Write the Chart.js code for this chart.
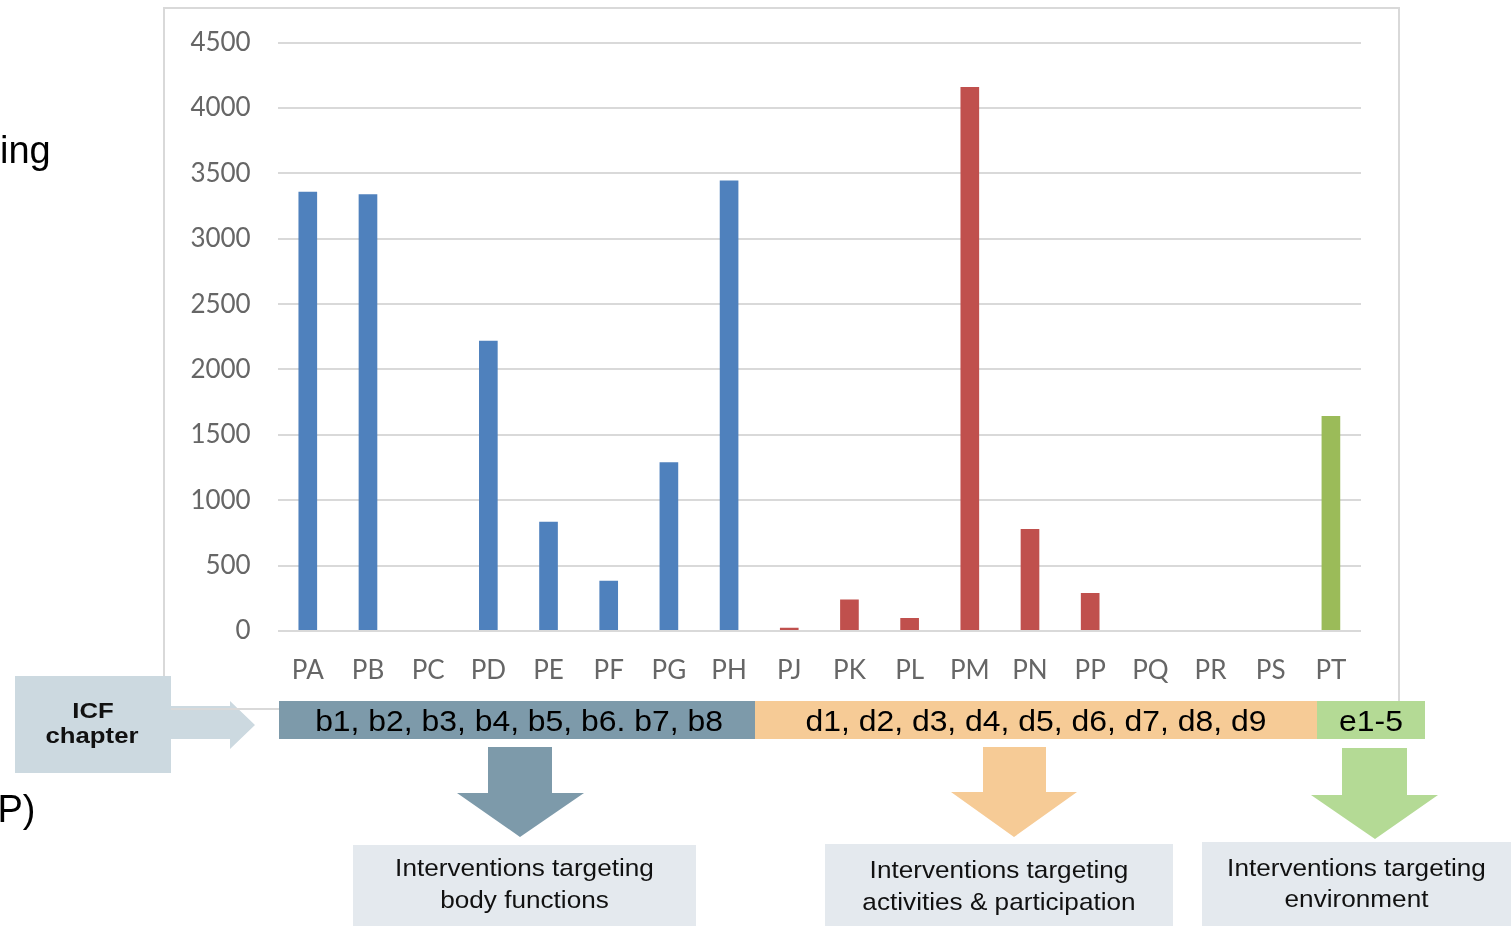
<!DOCTYPE html>
<html>
<head>
<meta charset="utf-8">
<title>Interventions by ICF chapter</title>
<script src="https://cdn.jsdelivr.net/npm/chart.js@4/dist/chart.umd.min.js"></script>
<style>
  html, body { margin: 0; padding: 0; background: #fff; }
  #wrap { position: relative; width: 1511px; height: 926px; overflow: hidden; }
  #chart { position: absolute; left: 0; top: 0; }
  #deco { position: absolute; left: 0; top: 0; pointer-events: none; }
  #deco text { font-family: "Liberation Sans", Arial, sans-serif; }
</style>
</head>
<body>
<div id="wrap">
  <canvas id="chart" width="1511" height="926"></canvas>
  <svg id="deco" width="1511" height="926" xmlns="http://www.w3.org/2000/svg"></svg>
</div>
<script>
// Intervention codes on the x axis
const categories = ['PA', 'PB', 'PC', 'PD', 'PE', 'PF', 'PG', 'PH', 'PJ', 'PK', 'PL', 'PM', 'PN', 'PP', 'PQ', 'PR', 'PS', 'PT'];
// Number of records per intervention code
const counts = [3360, 3340, 0, 2220, 835, 385, 1290, 3445, 25, 240, 100, 4160, 780, 290, 0, 0, 0, 1645];
// ICF component each code belongs to (b = body functions, d = activities, e = environment)
const chapterGroup = ['b', 'b', 'b', 'b', 'b', 'b', 'b', 'b', 'd', 'd', 'd', 'd', 'd', 'd', 'd', 'd', 'd', 'e'];
const groupColors = { b: '#4f81bd', d: '#c0504d', e: '#9bbb59' };
// Value axis
const yMin = 0;
const yMax = 4500;
const yStep = 500;

// ICF chapter bands and the intervention targets below them
const bandLabels = ['b1, b2, b3, b4, b5, b6. b7, b8', 'd1, d2, d3, d4, d5, d6, d7, d8, d9', 'e1-5'];
const targetLines = [
  ['Interventions targeting', 'body functions'],
  ['Interventions targeting', 'activities & participation'],
  ['Interventions targeting', 'environment']
];

function drawChart() {
  const tickFont = { family: 'Lato, "Open Sans", sans-serif', size: 26 };
  new Chart(document.getElementById('chart'), {
    type: 'bar',
    data: {
      labels: categories,
      datasets: [{
        data: counts,
        backgroundColor: chapterGroup.map(g => groupColors[g]),
        barPercentage: 0.31,
        categoryPercentage: 1
      }]
    },
    options: {
      responsive: false,
      animation: false,
      devicePixelRatio: 1,
      layout: { padding: { top: 42.5, right: 150, bottom: 0, left: 0 } },
      plugins: { legend: { display: false }, tooltip: { enabled: false } },
      scales: {
        x: {
          grid: { display: false, drawTicks: false },
          border: { display: false },
          ticks: { font: tickFont, color: '#666', padding: 24, maxRotation: 0, autoSkip: false },
          afterFit(scale) { scale.height = 295; }
        },
        y: {
          min: yMin,
          max: yMax,
          grid: { color: '#d9d9d9', lineWidth: 2, drawTicks: false },
          border: { display: false },
          ticks: {
            stepSize: yStep,
            font: tickFont,
            color: '#666',
            padding: 27,
            callback: v => String(v)
          },
          afterFit(scale) { scale.width = 277.7; }
        }
      }
    }
  });
}

// Frame, ICF chapter bands, arrows and target boxes
function drawDecorations() {
  const NS = 'http://www.w3.org/2000/svg';
  const svg = document.getElementById('deco');
  function el(tag, attrs, text) {
    const e = document.createElementNS(NS, tag);
    for (const k in attrs) e.setAttribute(k, attrs[k]);
    if (text !== undefined) e.textContent = text;
    svg.appendChild(e);
    return e;
  }
  function label(str, x, y, size, sx, opts) {
    const o = opts || {};
    el('text', {
      transform: `translate(${x},${y}) scale(${sx},1)`,
      'text-anchor': o.anchor || 'middle',
      'font-size': size,
      'font-weight': o.bold ? 'bold' : 'normal',
      fill: o.fill || '#000'
    }, str);
  }

  // cut-off slide text at the left edge
  label('ing', 0, 163, 38, 1, { anchor: 'start' });
  label('P)', -2.5, 822, 38, 1, { anchor: 'start' });

  // arrow from the ICF chapter box to the bands
  el('polygon', { points: '171,706 230,706 230,701 255,725 230,749 230,739 171,739', fill: '#ccd9e0' });

  // chart frame
  el('rect', { x: 164, y: 8, width: 1235, height: 701, fill: 'none', stroke: '#d9d9d9', 'stroke-width': 2 });

  // ICF chapter box
  el('rect', { x: 15, y: 676, width: 156, height: 97, fill: '#ccd9e0' });
  label('ICF', 93, 718, 23, 1.12, { bold: true, fill: '#111' });
  label('chapter', 92, 743, 23, 1.12, { bold: true, fill: '#111' });

  // chapter bands
  const bands = [
    { x: 279, w: 476, fill: '#7d9aaa' },
    { x: 755, w: 562, fill: '#f6cb96' },
    { x: 1317, w: 108, fill: '#b4da95' }
  ];
  bands.forEach((b, i) => {
    el('rect', { x: b.x, y: 701, width: b.w, height: 38, fill: b.fill });
    label(bandLabels[i], b.x + b.w / 2 + (i === 0 ? 2 : 0), 731, 29, 1.1);
  });

  // down arrows
  const arrows = [
    { s0: 488, s1: 552, top: 747, neck: 793, h0: 457, h1: 584, tipX: 520, tipY: 837, fill: '#7d9aaa' },
    { s0: 983, s1: 1046, top: 747, neck: 792, h0: 951, h1: 1077, tipX: 1014, tipY: 837, fill: '#f6cb96' },
    { s0: 1342, s1: 1407, top: 748, neck: 795, h0: 1311, h1: 1438, tipX: 1375, tipY: 839, fill: '#b4da95' }
  ];
  arrows.forEach(a => {
    el('polygon', {
      points: `${a.s0},${a.top} ${a.s1},${a.top} ${a.s1},${a.neck} ${a.h1},${a.neck} ${a.tipX},${a.tipY} ${a.h0},${a.neck} ${a.s0},${a.neck}`,
      fill: a.fill
    });
  });

  // target boxes, with the baselines of their two text lines
  const boxes = [
    { x: 353, y: 845, w: 343, l1: 876, l2: 908 },
    { x: 825, y: 844, w: 348, l1: 878, l2: 910 },
    { x: 1202, y: 842, w: 309, l1: 876, l2: 907 }
  ];
  boxes.forEach((b, i) => {
    el('rect', { x: b.x, y: b.y, width: b.w, height: 926 - b.y, fill: '#e4e9ee' });
    const cx = b.x + b.w / 2;
    label(targetLines[i][0], cx, b.l1, 24, 1.09, { fill: '#111' });
    label(targetLines[i][1], cx, b.l2, 24, 1.09, { fill: '#111' });
  });
}

drawDecorations();
const fontReady = document.fonts && document.fonts.load ? document.fonts.load('26px Lato') : Promise.resolve();
fontReady.then(drawChart, drawChart);
</script>
</body>
</html>
